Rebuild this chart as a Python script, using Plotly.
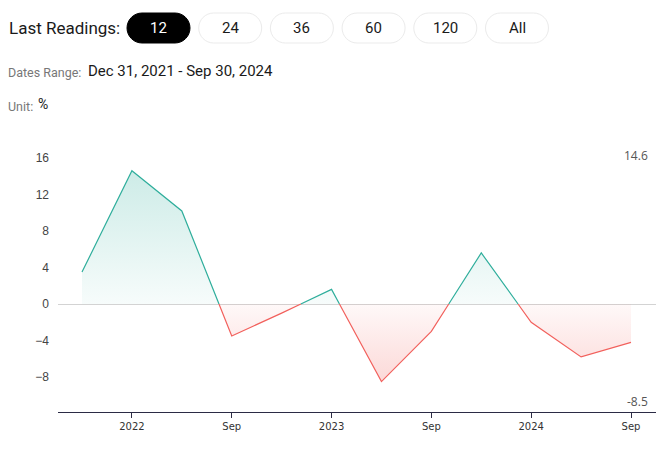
import numpy as np
import plotly.graph_objects as go

# ---- data ----
dates = ["2021-12-31", "2022-03-31", "2022-06-30", "2022-09-30", "2022-12-31", "2023-03-31",
         "2023-06-30", "2023-09-30", "2023-12-31", "2024-03-31", "2024-06-30", "2024-09-30"]
values = [3.5, 14.6, 10.2, -3.5, -1.0, 1.6, -8.5, -3.0, 5.6, -2.0, -5.8, -4.2]
tick_idx = [1, 3, 5, 7, 9, 11]
tick_labels = ["2022", "Sep", "2023", "Sep", "2024", "Sep"]
y_ticks = [-8, -4, 0, 4, 8, 12, 16]
buttons = ["12", "24", "36", "60", "120", "All"]
date_range_text = "Dec 31, 2021 - Sep 30, 2024"
unit_text = "%"

# page body has an 8px default margin; lay out in window pixel coords
OFF = 8
W, H = 664 - OFF, 458 - OFF
PLOT_L, PLOT_R, PLOT_T, PLOT_B = 58, 664, 130, 412  # window px
ML, MR, MT, MB = PLOT_L - OFF, 664 - PLOT_R, PLOT_T - OFF, 458 - PLOT_B
PW, PH = W - ML - MR, H - MT - MB

GREEN = "#2fae9c"
RED = "#f2605c"

x = np.arange(len(values), dtype=float)
y = np.array(values, dtype=float)

# augment with zero crossings
xa, ya = [x[0]], [y[0]]
for i in range(len(y) - 1):
    y0, y1 = y[i], y[i + 1]
    if y0 * y1 < 0:
        t = y0 / (y0 - y1)
        xa.append(x[i] + t)
        ya.append(0.0)
    xa.append(x[i + 1])
    ya.append(y1)
xa = np.array(xa)
ya = np.array(ya)

pos_fill = np.maximum(ya, 0)
neg_fill = np.minimum(ya, 0)
pos_line = [v if v >= 0 else None for v in ya]
neg_line = [v if v <= 0 else None for v in ya]

fig = go.Figure()
fig.add_trace(go.Scatter(
    x=xa, y=pos_fill, mode="lines", line=dict(width=0), fill="tozeroy",
    fillgradient=dict(type="vertical",
                      colorscale=[[0, "rgba(47,174,156,0.04)"], [1, "rgba(47,174,156,0.24)"]],
                      start=0, stop=max(values)),
    hoverinfo="skip", showlegend=False))
fig.add_trace(go.Scatter(
    x=xa, y=neg_fill, mode="lines", line=dict(width=0), fill="tozeroy",
    fillgradient=dict(type="vertical",
                      colorscale=[[0, "rgba(242,96,92,0.24)"], [1, "rgba(242,96,92,0.04)"]],
                      start=min(values), stop=0),
    hoverinfo="skip", showlegend=False))
fig.add_trace(go.Scatter(x=xa, y=pos_line, mode="lines", line=dict(color=GREEN, width=1.2),
                         connectgaps=False, hoverinfo="skip", showlegend=False))
fig.add_trace(go.Scatter(x=xa, y=neg_line, mode="lines", line=dict(color=RED, width=1.2),
                         connectgaps=False, hoverinfo="skip", showlegend=False))

# axis scale: 0 at y=304px, 16 at 158px (window px)
ppu = (304 - 158) / 16.0
y_top = (304 - PLOT_T) / ppu
y_bot = (304 - PLOT_B) / ppu
spacing = (631 - 82) / 11.0
x_left = (PLOT_L - 82) / spacing
x_right = (PLOT_R - 82) / spacing

fig.update_xaxes(range=[x_left, x_right], tickmode="array",
                 tickvals=tick_idx, ticktext=tick_labels,
                 showgrid=False, zeroline=False, showline=True, linecolor="#2b2b45", linewidth=1,
                 ticks="outside", ticklen=5, tickcolor="#2b2b45",
                 tickfont=dict(family="DejaVu Sans", size=10, color="#333333"))
fig.update_yaxes(range=[y_bot, y_top], tickmode="array", tickvals=y_ticks,
                 showgrid=False, zeroline=True, zerolinecolor="#d3d3d3", zerolinewidth=1,
                 showline=False, ticks="", ticklabelstandoff=8,
                 tickfont=dict(family="Liberation Sans", size=12, color="#444444"))


def px(xp):
    return (xp - PLOT_L) / PW


def py(yp):
    return (PLOT_B - yp) / PH


shapes = []
annotations = []

# header
annotations.append(dict(x=px(7), y=py(28), xref="paper", yref="paper", text="Last Readings:",
                        showarrow=False, xanchor="left", yanchor="middle",
                        font=dict(family="Roboto", size=17, color="#1a1a1a")))

k = 0.5523
bx0 = 127
bw = 63
bstep = 71.7
by0, by1 = 13, 43
for i, b in enumerate(buttons):
    x0 = bx0 + i * bstep
    x1 = x0 + bw
    r = (by1 - by0) / 2
    path = (f"M {px(x0 + r)},{py(by0)} L {px(x1 - r)},{py(by0)} "
            f"C {px(x1 - r + k * r)},{py(by0)} {px(x1)},{py(by0 + r - k * r)} {px(x1)},{py(by0 + r)} "
            f"C {px(x1)},{py(by0 + r + k * r)} {px(x1 - r + k * r)},{py(by1)} {px(x1 - r)},{py(by1)} "
            f"L {px(x0 + r)},{py(by1)} "
            f"C {px(x0 + r - k * r)},{py(by1)} {px(x0)},{py(by1 - r + k * r)} {px(x0)},{py(by1 - r)} "
            f"C {px(x0)},{py(by0 + r - k * r)} {px(x0 + r - k * r)},{py(by0)} {px(x0 + r)},{py(by0)} Z")
    active = (i == 0)
    shapes.append(dict(type="path", path=path, xref="paper", yref="paper",
                       fillcolor="#000000" if active else "#ffffff",
                       line=dict(color="#000000" if active else "#ebebeb", width=1), layer="above"))
    annotations.append(dict(x=px((x0 + x1) / 2), y=py((by0 + by1) / 2), xref="paper", yref="paper",
                            text=b, showarrow=False, xanchor="center", yanchor="middle",
                            font=dict(family="Roboto", size=15,
                                      color="#ffffff" if active else "#1a1a1a")))

annotations.append(dict(x=px(6), y=py(72), xref="paper", yref="paper", text="Dates Range:",
                        showarrow=False, xanchor="left", yanchor="middle",
                        font=dict(family="Roboto", size=12.5, color="#777777")))
annotations.append(dict(x=px(86), y=py(71), xref="paper", yref="paper", text=date_range_text,
                        showarrow=False, xanchor="left", yanchor="middle",
                        font=dict(family="Roboto", size=15, color="#1a1a1a")))
annotations.append(dict(x=px(6), y=py(106), xref="paper", yref="paper", text="Unit:",
                        showarrow=False, xanchor="left", yanchor="middle",
                        font=dict(family="Roboto", size=12.5, color="#777777")))
annotations.append(dict(x=px(36), y=py(104), xref="paper", yref="paper", text=unit_text,
                        showarrow=False, xanchor="left", yanchor="middle",
                        font=dict(family="Roboto", size=14, color="#1a1a1a")))

# max/min labels
annotations.append(dict(x=px(650), y=py(155), xref="paper", yref="paper", text=f"{max(values):.1f}",
                        showarrow=False, xanchor="right", yanchor="middle",
                        font=dict(family="Open Sans", size=12, color="#555555")))
annotations.append(dict(x=px(650), y=py(401), xref="paper", yref="paper", text=f"{min(values):.1f}",
                        showarrow=False, xanchor="right", yanchor="middle",
                        font=dict(family="Open Sans", size=12, color="#555555")))

fig.update_layout(width=W, height=H, margin=dict(l=ML, r=MR, t=MT, b=MB),
                  paper_bgcolor="#ffffff", plot_bgcolor="#ffffff",
                  shapes=shapes, annotations=annotations, showlegend=False)

fig.write_html("out.html")
